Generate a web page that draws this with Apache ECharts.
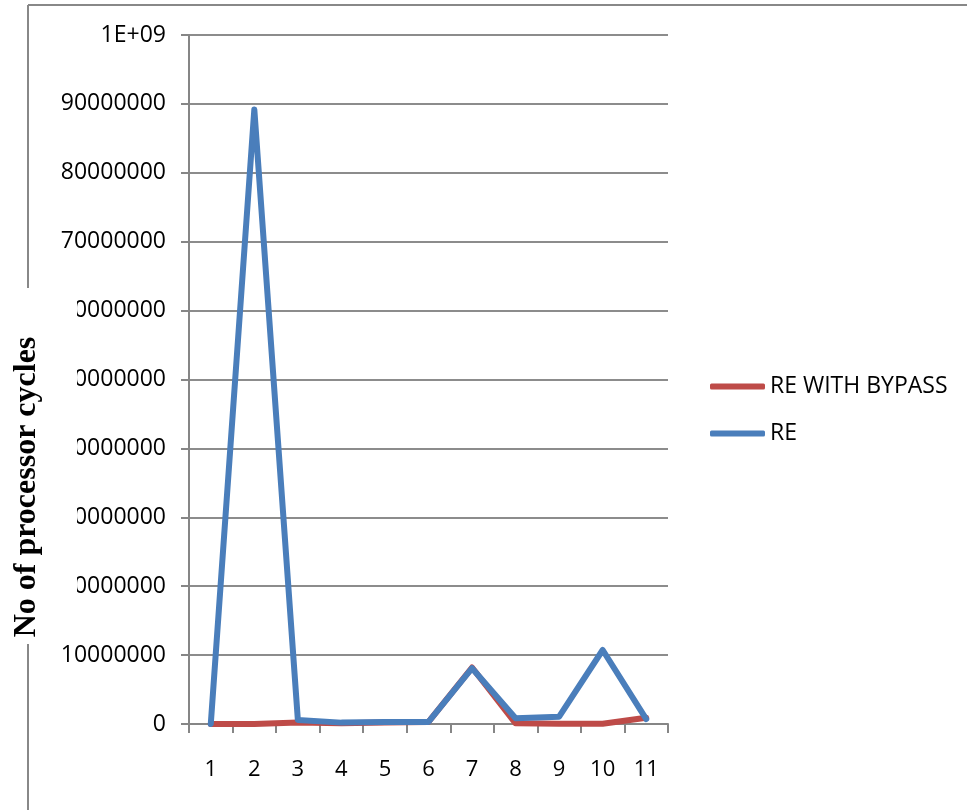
<!DOCTYPE html>
<html>
<head>
<meta charset="utf-8">
<script src="https://cdn.jsdelivr.net/npm/echarts@6/dist/echarts.min.js"></script>
<style>
html,body{margin:0;padding:0;background:#fff;}
#chart{width:967px;height:810px;}
</style>
</head>
<body>
<div id="chart"></div>
<script>
var categories = ['1','2','3','4','5','6','7','8','9','10','11'];
var reWithBypass = [0, 0, 200000, 100000, 200000, 300000, 8200000, 100000, 50000, 50000, 900000];
var re = [0, 89200000, 580000, 200000, 300000, 300000, 8100000, 830000, 1060000, 10740000, 720000];
var yTickLabels = ['0','10000000','20000000','30000000','40000000','50000000','60000000','70000000','80000000','90000000','1E+09'];
var seriesNames = ['RE WITH BYPASS', 'RE'];
var yTitle = 'No of processor cycles';

var chart = echarts.init(document.getElementById('chart'));
var labelFont = 'Open Sans';
chart.setOption({
  animation: false,
  backgroundColor: '#ffffff',
  grid: { left: 189, top: 35, right: 299, bottom: 86, containLabel: false },
  legend: {
    orient: 'vertical',
    left: 705,
    top: 370,
    itemWidth: 55,
    itemHeight: 6,
    itemGap: 24,
    icon: 'roundRect',
    data: seriesNames,
    textStyle: { fontFamily: labelFont, fontSize: 23, color: '#000' }
  },
  xAxis: {
    type: 'category',
    data: categories,
    boundaryGap: true,
    axisLine: { lineStyle: { color: '#868686', width: 2 } },
    axisTick: { show: true, length: 9, lineStyle: { color: '#868686', width: 2 } },
    axisLabel: { fontFamily: labelFont, fontSize: 22, color: '#000', margin: 35 },
    splitLine: { show: false }
  },
  yAxis: {
    type: 'value',
    min: 0,
    max: 100000000,
    interval: 10000000,
    axisLine: { show: true, lineStyle: { color: '#868686', width: 2 } },
    axisTick: { show: true, length: 8, lineStyle: { color: '#868686', width: 2 } },
    axisLabel: {
      fontFamily: labelFont, fontSize: 23, color: '#000', margin: 23,
      formatter: function (v) { return yTickLabels[Math.round(v / 10000000)]; }
    },
    splitLine: { show: true, lineStyle: { color: '#8c8c8c', width: 2 } }
  },
  series: [
    {
      name: seriesNames[0], type: 'line', data: reWithBypass,
      symbol: 'none', color: '#be4b48',
      lineStyle: { width: 6, color: '#be4b48', cap: 'round', join: 'round' }, z: 2
    },
    {
      name: seriesNames[1], type: 'line', data: re,
      symbol: 'none', color: '#4a7ebb',
      lineStyle: { width: 6, color: '#4a7ebb', cap: 'round', join: 'round' }, z: 3
    }
  ],
  graphic: [
    { type: 'line', shape: { x1: 28, y1: 5, x2: 967, y2: 5 }, style: { stroke: '#888888', lineWidth: 2 }, z: 0 },
    { type: 'line', shape: { x1: 28, y1: 5, x2: 28, y2: 810 }, style: { stroke: '#888888', lineWidth: 2 }, z: 0 },
    { type: 'rect', shape: { x: 0, y: 288, width: 77, height: 356 }, style: { fill: '#ffffff' }, z: 100 },
    {
      type: 'text', x: 27, y: 487, rotation: Math.PI / 2, z: 101,
      style: {
        text: yTitle, fontFamily: 'Liberation Serif', fontWeight: 'bold', fontSize: 32,
        fill: '#000', align: 'center', verticalAlign: 'middle'
      }
    }
  ]
});
</script>
</body>
</html>
